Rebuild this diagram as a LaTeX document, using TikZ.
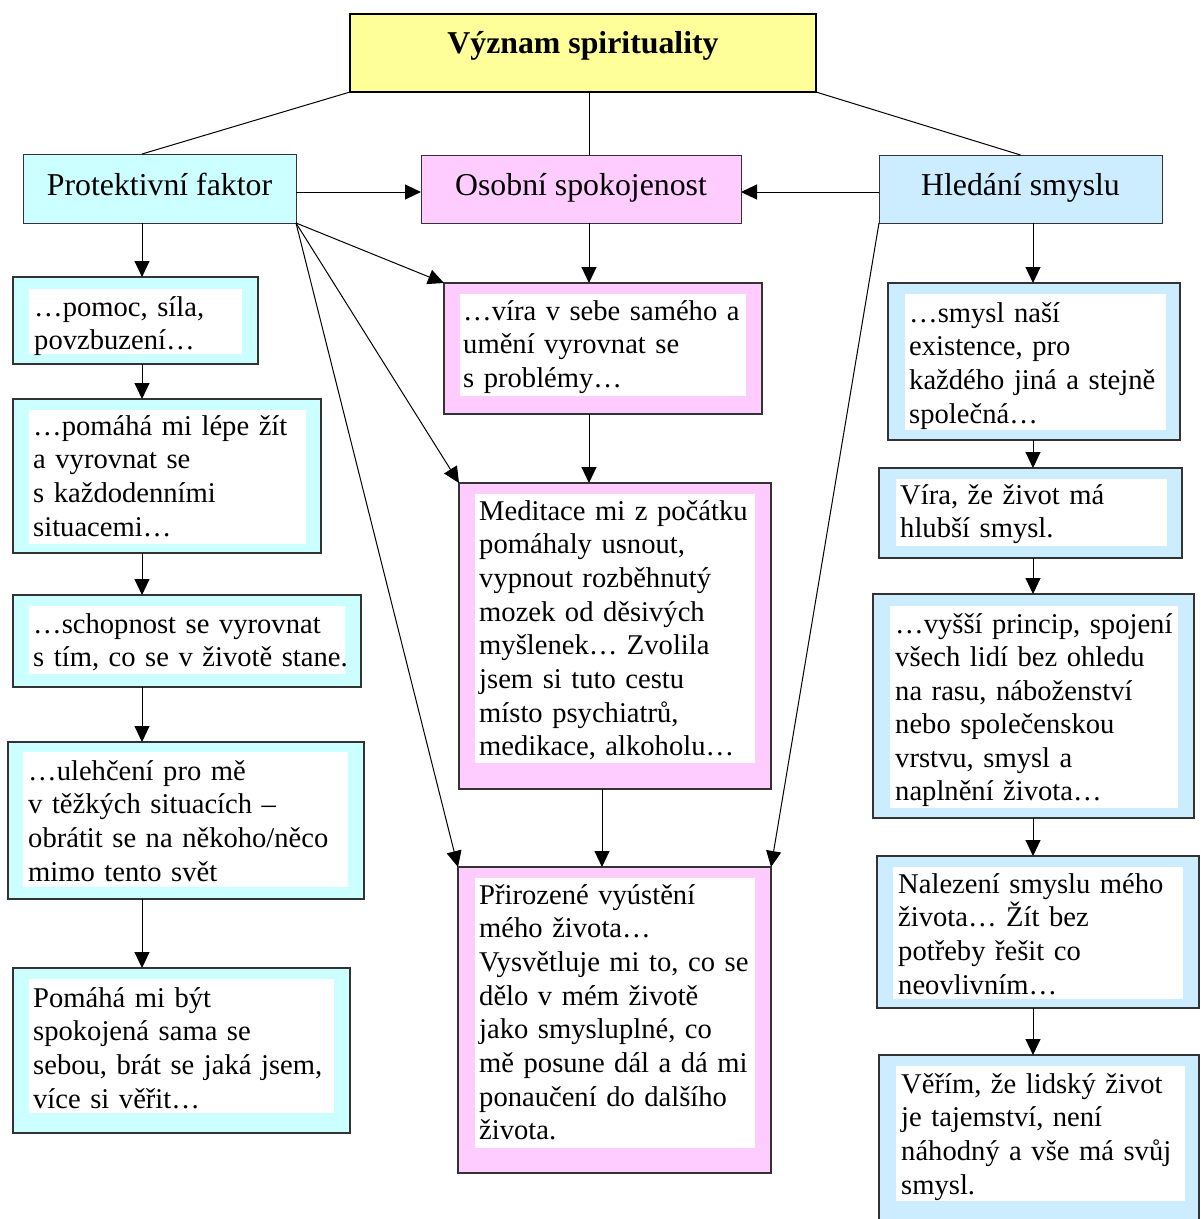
\documentclass[tikz,border=0pt]{standalone}
\usepackage{fontspec}
\setmainfont{Liberation Serif}
\usetikzlibrary{arrows.meta,fit}
\definecolor{cyanF}{HTML}{CCFFFF}
\definecolor{pinkF}{HTML}{FFCCFF}
\definecolor{blueF}{HTML}{CCECFF}
\definecolor{yelF}{HTML}{FFFF99}
\definecolor{edge}{HTML}{333333}
\begin{document}
\begin{tikzpicture}[x=1pt,y=-1pt,
  cbx/.style={draw=edge, line width=1.3pt, inner sep=0pt, outer sep=0pt},
  hdr/.style={cbx, line width=1pt},
  hdrtxt/.style={anchor=base, inner sep=0pt, font=\fontsize{31.8}{36}\selectfont},
  txt/.style={anchor=base west, inner sep=0pt, text width=420pt, align=left, font=\fontsize{28.6}{33.7}\selectfont},
  arr/.style={line width=1pt, -{Triangle[length=16pt,width=15pt]}},
  ln/.style={line width=1pt}
]
\useasboundingbox (0,0) rectangle (1201,1219);
\fill[white] (0,0) rectangle (1201,1219);

% column coordinates
\coordinate (lc) at (142,0);
\coordinate (mc) at (589,0);
\coordinate (mc2) at (602,0);
\coordinate (rc) at (1033,0);

% title
\node[cbx, line width=2pt, draw=black, fill=yelF, fit={(350,14) (816,92)}] (T) {};
\node[hdrtxt, font=\fontsize{31.8}{36}\selectfont\bfseries] at (583,53) {Význam spirituality};

% headers
\node[hdr, fill=cyanF, fit={(23,154) (296,223)}] (PF) {};
\node[hdrtxt] at (159.5,195) {Protektivní faktor};
\node[hdr, fill=pinkF, fit={(421,155) (741,223)}] (OS) {};
\node[hdrtxt] at (581,195) {Osobní spokojenost};
\node[hdr, fill=blueF, fit={(879,155) (1162,223)}] (HS) {};
\node[hdrtxt] at (1020.5,195) {Hledání smyslu};

% left column
\node[cbx, fill=cyanF, fit={(13,277) (258,364)}] (L1) {};
\fill[white] (29,289) rectangle (242,354);
\node[txt] at (34,316) {…pomoc, síla,\\povzbuzení…};

\node[cbx, fill=cyanF, fit={(13,399) (321,553)}] (L2) {};
\fill[white] (29,410) rectangle (306,544);
\node[txt] at (33,435) {…pomáhá mi lépe žít\\a vyrovnat se\\s každodenními\\situacemi…};

\node[cbx, fill=cyanF, fit={(13,595) (361,687)}] (L3) {};
\fill[white] (29,606) rectangle (345,674);
\node[txt] at (33,633) {…schopnost se vyrovnat\\s tím, co se v životě stane.};

\node[cbx, fill=cyanF, fit={(8,742) (364,899)}] (L4) {};
\fill[white] (23,752) rectangle (348,887);
\node[txt] at (28,780) {…ulehčení pro mě\\v těžkých situacích –\\obrátit se na někoho/něco\\mimo tento svět};

\node[cbx, fill=cyanF, fit={(13,968) (350,1133)}] (L5) {};
\fill[white] (29,979) rectangle (334,1113);
\node[txt] at (33,1007) {Pomáhá mi být\\spokojená sama se\\sebou, brát se jaká jsem,\\více si věřit…};

% middle column
\node[cbx, fill=pinkF, fit={(444,283) (762,414)}] (M1) {};
\fill[white] (460,294) rectangle (746,396);
\node[txt] at (463,320) {…víra v sebe samého a\\umění vyrovnat se\\s problémy…};

\node[cbx, fill=pinkF, fit={(459,483) (771,789)}] (M2) {};
\fill[white] (475,494) rectangle (755,763);
\node[txt] at (479,520) {Meditace mi z počátku\\pomáhaly usnout,\\vypnout rozběhnutý\\mozek od děsivých\\myšlenek… Zvolila\\jsem si tuto cestu\\místo psychiatrů,\\medikace, alkoholu…};

\node[cbx, fill=pinkF, fit={(458,867) (771,1173)}] (M3) {};
\fill[white] (475,878) rectangle (755,1148);
\node[txt] at (479,904) {Přirozené vyústění\\mého života…\\Vysvětluje mi to, co se\\dělo v mém životě\\jako smysluplné, co\\mě posune dál a dá mi\\ponaučení do dalšího\\života.};

% right column
\node[cbx, fill=blueF, fit={(888,283) (1180,440)}] (R1) {};
\fill[white] (905,294) rectangle (1166,430);
\node[txt] at (909,322) {…smysl naší\\existence, pro\\každého jiná a stejně\\společná…};

\node[cbx, fill=blueF, fit={(879,468) (1182,558)}] (R2) {};
\fill[white] (896,479) rectangle (1167,546);
\node[txt] at (900,504) {Víra, že život má\\hlubší smysl.};

\node[cbx, fill=blueF, fit={(873,594) (1194,818)}] (R3) {};
\fill[white] (890,606) rectangle (1178,808);
\node[txt, font=\fontsize{28.6}{33.5}\selectfont] at (895,633) {…vyšší princip, spojení\\všech lidí bez ohledu\\na rasu, náboženství\\nebo společenskou\\vrstvu, smysl a\\naplnění života…};

\node[cbx, fill=blueF, fit={(877,856) (1199,1008)}] (R4) {};
\fill[white] (893,867) rectangle (1183,999);
\node[txt] at (898,893) {Nalezení smyslu mého\\života… Žít bez\\potřeby řešit co\\neovlivním…};

\node[cbx, fill=blueF, fit={(879,1055) (1199,1240)}] (R5) {};
\fill[white] (896,1066) rectangle (1185,1201);
\node[txt] at (901,1093) {Věřím, že lidský život\\je tajemství, není\\náhodný a vše má svůj\\smysl.};

% title connectors
\draw[ln] (T.south west) -- (PF.north -| lc);
\draw[ln] (T.south -| mc) -- (OS.north -| mc);
\draw[ln] (T.south east) -- (HS.north);

% header horizontal arrows
\draw[arr] ([yshift=-3.5pt]PF.east) -- ([yshift=-3pt]OS.west);
\draw[arr] ([yshift=-3pt]HS.west) -- ([yshift=-3pt]OS.east);

% left column arrows
\draw[arr] (PF.south -| lc) -- (L1.north -| lc);
\draw[arr] (L1.south -| lc) -- (L2.north -| lc);
\draw[arr] (L2.south -| lc) -- (L3.north -| lc);
\draw[arr] (L3.south -| lc) -- (L4.north -| lc);
\draw[arr] (L4.south -| lc) -- (L5.north -| lc);

% middle column arrows
\draw[arr] (OS.south -| mc) -- (M1.north -| mc);
\draw[arr] (M1.south -| mc) -- (M2.north -| mc);
\draw[arr] (M2.south -| mc2) -- (M3.north -| mc2);

% right column arrows
\draw[arr] (HS.south -| rc) -- (R1.north -| rc);
\draw[arr] (R1.south -| rc) -- (R2.north -| rc);
\draw[arr] (R2.south -| rc) -- (R3.north -| rc);
\draw[arr] (R3.south -| rc) -- (R4.north -| rc);
\draw[arr] (R4.south -| rc) -- (R5.north -| rc);

% diagonal arrows
\draw[arr] (PF.south east) -- (M1.north west);
\draw[arr] (PF.south east) -- (M2.north west);
\draw[arr] (PF.south east) -- (M3.north west);
\draw[arr] (HS.south west) -- (M3.north east);
\end{tikzpicture}
\end{document}
